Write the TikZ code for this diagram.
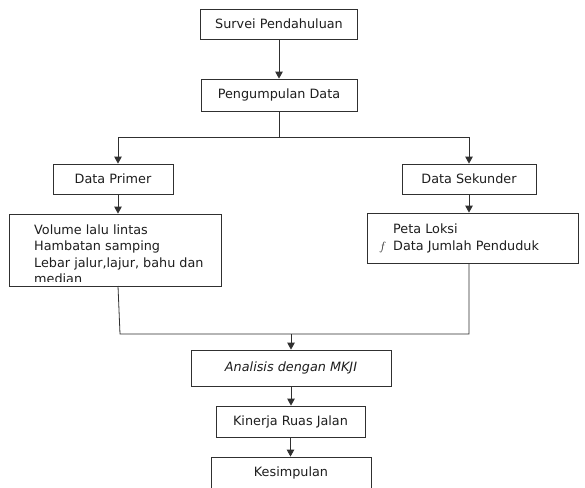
\documentclass[tikz,border=0pt]{standalone}
\usepackage{fontspec}
\setmainfont{DejaVu Sans}
\usetikzlibrary{arrows.meta}
\definecolor{ink}{HTML}{1E1E1E}
\definecolor{edge}{HTML}{303030}
\begin{document}
\begin{tikzpicture}[x=1pt,y=-1pt,
  every node/.style={text=ink, font=\fontsize{12.8}{15}\selectfont},
  box/.style={draw=edge, line width=0.8pt, inner sep=0pt, fill=white},
  txt/.style={inner sep=0pt, anchor=base west},
  conn/.style={draw=edge, line width=0.8pt},
  arr/.style={conn, -{Triangle[length=7pt,width=7.5pt]}}]
\clip (0,0) rectangle (585,487);
\useasboundingbox (0,0) rectangle (585,487);
\fill[white] (0,0) rectangle (585,487);
% boxes
\node[box, minimum width=157pt, minimum height=30pt] (survei) at (279,24) {Survei Pendahuluan};
\node[box, minimum width=156pt, minimum height=32pt] (peng) at (279,95) {Pengumpulan Data};
\node[box, minimum width=120pt, minimum height=30pt] (primer) at (113,179) {Data Primer};
\node[box, minimum width=134pt, minimum height=30pt] (sekunder) at (469,179) {Data Sekunder};
\node[box, minimum width=212pt, minimum height=72pt] (primerbox) at (115,250) {};
\node[box, minimum width=211pt, minimum height=50pt] (sekbox) at (472.5,238) {};
\node[box, minimum width=200pt, minimum height=36pt, font=\fontsize{12.8}{15}\selectfont\itshape] (analisis) at (291,368) {Analisis dengan MKJI};
\node[box, minimum width=149pt, minimum height=31pt] (kinerja) at (290.5,421.5) {Kinerja Ruas Jalan};
\node[box, minimum width=160pt, minimum height=32pt] (kesimpulan) at (291,473) {Kesimpulan};
% texts inside list boxes
\begin{scope}
\clip (10,215) rectangle (220,281);
\node[txt] (p1) at (34,234) {Volume lalu lintas};
\node[txt] (p2) at (34,250.5) {Hambatan samping};
\node[txt] (p3) at (34,267) {Lebar jalur,lajur, bahu dan};
\node[txt] (p4) at (34,283.5) {median};
\end{scope}
\node[txt] (s1) at (393,233) {Peta Loksi};
\node[txt] (s2) at (393,250) {Data Jumlah Penduduk};
\node[txt] (sf) at (379,250) {$f$};
% connectors
\coordinate (split) at (279,137);
\coordinate (splitL) at (118,137);
\coordinate (splitR) at (469,137);
\coordinate (pbot) at (118,286);
\coordinate (jl) at (120,334);
\coordinate (jr) at (469,334);
\coordinate (jm) at (291,334);
\draw[arr] (survei.south) -- (peng.north);
\draw[conn] (peng.south) -- (split);
\draw[conn] (splitL) -- (splitR);
\draw[arr] (splitL) -- (splitL |- primer.north);
\draw[arr] (splitR) -- (splitR |- sekunder.north);
\draw[arr] (primer.south -| splitL) -- (primerbox.north -| splitL);
\draw[arr] (sekunder.south) -- (sekunder.south |- sekbox.north);
\draw[conn] (pbot) -- (jl) -- (jr) -- (sekbox.south -| jr);
\draw[arr] (jm) -- (analisis.north);
\draw[arr] (analisis.south) -- (analisis.south |- kinerja.north);
\draw[arr] (kinerja.south) -- (kinerja.south |- kesimpulan.north);
\end{tikzpicture}
\end{document}
